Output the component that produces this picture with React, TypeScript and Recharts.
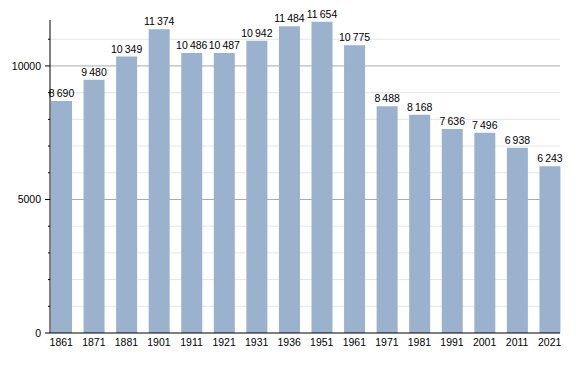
import React from "react";
import { BarChart, Bar, XAxis, YAxis, CartesianGrid, LabelList } from "recharts";

const years = ["1861", "1871", "1881", "1901", "1911", "1921", "1931", "1936", "1951", "1961", "1971", "1981", "1991", "2001", "2011", "2021"];
const population = [8690, 9480, 10349, 11374, 10486, 10487, 10942, 11484, 11654, 10775, 8488, 8168, 7636, 7496, 6938, 6243];
const yTicks = [0, 1000, 2000, 3000, 4000, 5000, 6000, 7000, 8000, 9000, 10000, 11000];
const majorTicks = [0, 5000, 10000];
const minorGrid = [1000, 2000, 3000, 4000, 6000, 7000, 8000, 9000, 11000];
const majorGrid = [5000, 10000];

const data = years.map((y, i) => ({ year: y, pop: population[i] }));

const font = "'Liberation Sans', Arial, sans-serif";

const fmt = (v: number) => {
  const s = String(v);
  return s.length > 3 ? s.slice(0, s.length - 3) + "\u2009" + s.slice(s.length - 3) : s;
};

function YTick(props: any) {
  const { x, y, payload } = props;
  const major = majorTicks.includes(payload.value);
  const ax = x + 8;
  return (
    <g>
      <line x1={ax - (major ? 5 : 2)} x2={ax} y1={y} y2={y} stroke="#000" strokeWidth={1} />
      {major && (
        <text x={ax - 9} y={y + 4} textAnchor="end" fontSize={10.5} fontFamily={font} fill="#000">
          {payload.value}
        </text>
      )}
    </g>
  );
}

function XTick(props: any) {
  const { x, y, payload } = props;
  return (
    <text x={x} y={y + 5} textAnchor="middle" fontSize={10.5} fontFamily={font} fill="#000">
      {payload.value}
    </text>
  );
}

export default function App() {
  return (
    <div style={{ position: "absolute", left: 0, top: 0, background: "#fff" }}>
      <BarChart width={588} height={373} data={data} margin={{ top: 20, right: 28, bottom: 0, left: 0 }}>
        <CartesianGrid vertical={false} horizontalValues={minorGrid} stroke="#e4e4e4" />
        <CartesianGrid vertical={false} horizontalValues={majorGrid} stroke="#a8a8a8" />
        <XAxis
          dataKey="year"
          height={40}
          tickLine={false}
          axisLine={{ stroke: "#000" }}
          tick={<XTick />}
          interval={0}
          padding={{ left: -5, right: -6 }}
        />
        <YAxis
          width={50}
          domain={[0, 11720]}
          ticks={yTicks}
          interval={0}
          tickLine={false}
          axisLine={{ stroke: "#000" }}
          tick={<YTick />}
          allowDataOverflow
        />
        <Bar dataKey="pop" fill="#9ab2ce" barSize={21} isAnimationActive={false}>
          <LabelList
            dataKey="pop"
            position="top"
            offset={4}
            formatter={(v: any) => fmt(Number(v))}
            style={{ fontSize: 10.5, fontFamily: font, fill: "#000" }}
          />
        </Bar>
      </BarChart>
    </div>
  );
}
